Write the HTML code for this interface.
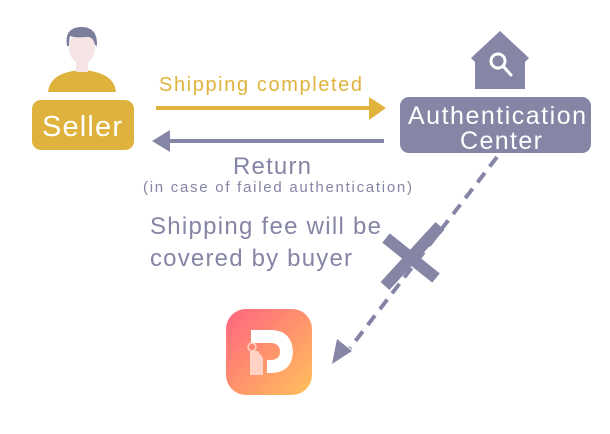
<!DOCTYPE html>
<html><head><style>
body{margin:0;width:610px;height:429px;background:#fff;overflow:hidden;font-family:"Liberation Sans",sans-serif}
</style></head><body>
<svg width="610" height="429" viewBox="0 0 610 429" xmlns="http://www.w3.org/2000/svg" font-family="Liberation Sans, sans-serif">
<defs><linearGradient id="g" x1="0" y1="0" x2="1" y2="1"><stop offset="0" stop-color="#ff6480"/><stop offset="1" stop-color="#ffc15a"/></linearGradient></defs>
<!-- person -->
<path d="M48 92 Q50 72 82 70 Q114 72 116 92 Z" fill="#deb23c"/>
<rect x="76" y="62" width="12" height="10" fill="#f6e4e4"/>
<ellipse cx="82" cy="48" rx="13" ry="16" fill="#f6e4e4"/>
<path d="M67 46 Q64 28 80 27 Q98 26 97 46 L95 45 Q93 36 86 37 Q76 38 70 36 Q69 42 69 46 Z" fill="#7b7f9c"/>
<rect x="32" y="100" width="102" height="50" rx="9" fill="#deb23c"/>
<text x="42" y="136" font-size="29" fill="#fff" textLength="80">Seller</text>
<!-- house -->
<path d="M500 31 L529 58 L525 62 L525 89 L475 89 L475 62 L471 58 Z" fill="#8585a5"/>
<circle cx="498" cy="61" r="7" fill="none" stroke="#fff" stroke-width="3"/>
<line x1="503" y1="66" x2="511" y2="75" stroke="#fff" stroke-width="3" stroke-linecap="round"/>
<rect x="400" y="97" width="191" height="56" rx="9" fill="#8585a5"/>
<text x="408" y="124" font-size="25" fill="#fff" textLength="178">Authentication</text>
<text x="460" y="149" font-size="25" fill="#fff" textLength="82">Center</text>
<!-- arrows -->
<text x="159" y="91" font-size="20" fill="#e0b33d" textLength="203">Shipping completed</text>
<line x1="156" y1="108" x2="372" y2="108" stroke="#e0b33d" stroke-width="4"/>
<polygon points="386,108 369,97 369,120" fill="#e0b33d"/>
<line x1="168" y1="141" x2="384" y2="141" stroke="#8585a5" stroke-width="4"/>
<polygon points="152,141 170,130 170,152" fill="#8585a5"/>
<text x="233" y="174" font-size="24" fill="#8585a5" textLength="78">Return</text>
<text x="143" y="192" font-size="15" fill="#8585a5" textLength="269">(in case of failed authentication)</text>
<text x="150" y="234" font-size="24" fill="#8585a5" textLength="231">Shipping fee will be</text>
<text x="150" y="266" font-size="24" fill="#8585a5" textLength="202">covered by buyer</text>
<!-- dashed -->
<line x1="497" y1="157" x2="350" y2="348" stroke="#8585a5" stroke-width="4" stroke-dasharray="12,8"/>
<polygon points="332,364 337,339 352,351" fill="#8585a5"/>
<line x1="386" y1="238" x2="436" y2="278" stroke="#8585a5" stroke-width="12"/>
<line x1="440" y1="226" x2="385" y2="286" stroke="#8585a5" stroke-width="12"/>
<!-- app icon -->
<rect x="226" y="309" width="86" height="86" rx="20" fill="url(#g)"/>
<path d="M251 330 L272 330 Q292 331 293 352 Q292 372 272 373 L267 373 L267 360 L272 360 Q280 359 280 352 Q280 344 272 343 L251 343 Z" fill="#fff"/>
<path d="M250 351 L258 351 L263 358 L263 375 L250 375 Z" fill="#ffd2c4"/>
<circle cx="252" cy="347" r="4" fill="none" stroke="#ffd2c4" stroke-width="1.5"/>
</svg>
</body></html>
